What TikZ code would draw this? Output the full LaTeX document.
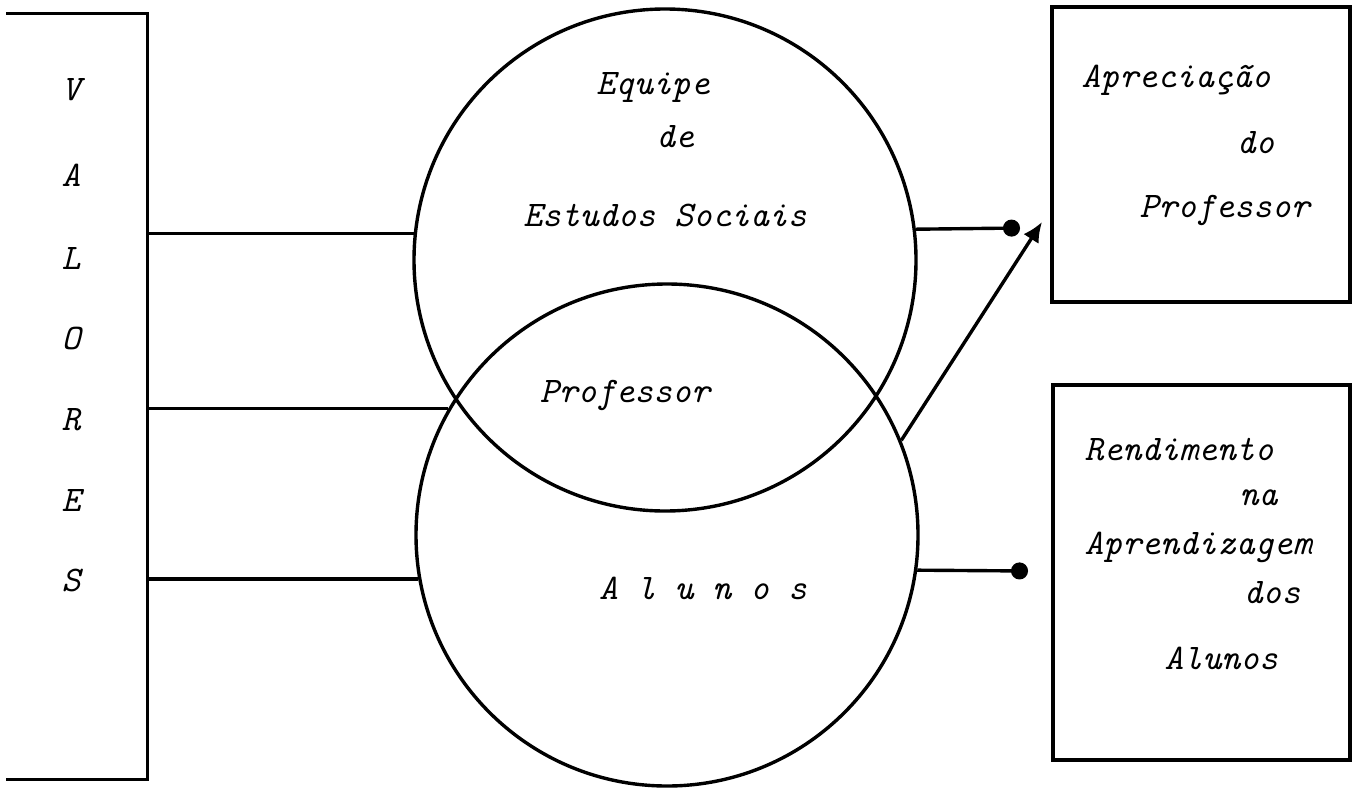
\documentclass[tikz,border=0pt]{standalone}
\usepackage{fontspec}
\usetikzlibrary{arrows.meta}

\begin{document}
\begin{tikzpicture}[x=0.5pt, y=-0.5pt, line width=1.7pt]
    \tikzstyle{txt} = [font=\fontsize{18}{22}\selectfont\ttfamily\itshape, inner sep=0pt]
    \tikzstyle{esq} = [txt, anchor=west]
    \tikzstyle{grupo} = [circle, draw, minimum size=251pt, inner sep=0pt]
    \tikzstyle{caixa} = [draw, inner sep=0pt]
    \tikzstyle{seta} = [-{Circle[length=8.5pt]}]
    \tikzstyle{setad} = [-{Latex[length=10pt,width=9pt]}]

    \useasboundingbox (0,0) rectangle (1353,787);

    % valores
    \node[minimum width=69pt, minimum height=381.5pt, inner sep=0pt] (valores) at (77,396.5) {};
    \draw (valores.north west) -- (valores.north east) -- (valores.south east) -- (valores.south west);
    \foreach \l/\y in {V/90,A/175,L/258,O/338,R/420,E/500,S/580}
        \node[txt] (v\l) at (71,\y) {\l};

    % circulos
    \node[grupo] (equipe) at (665,260) {};
    \node[grupo] (alunos) at (667,535) {};
    \node[txt] (eq1) at (653,87) {Equipe};
    \node[txt] (eq2) at (675,137) {de};
    \node[txt] (eq3) at (665,215) {Estudos Sociais};
    \node[txt] (prof) at (625,395) {Professor};
    \node[txt] (alu) at (703,588) {A l u n o s};

    % caixas da direita
    \node[caixa, minimum width=149pt, minimum height=147.5pt] (apreciacao) at (1201,154.5) {};
    \node[esq] (ap1) at (1080,80) {Apreciação};
    \node[esq] (ap2) at (1235,143) {do};
    \node[esq] (ap3) at (1138,210) {Professor};

    \node[caixa, minimum width=148.5pt, minimum height=187.5pt] (rendimento) at (1201.5,572.5) {};
    \node[esq] (re1) at (1083,450) {Rendimento};
    \node[esq] (re2) at (1238,498) {na};
    \node[esq] (re3) at (1083,547) {Aprendizagem};
    \node[esq] (re4) at (1242,593) {dos};
    \node[esq] (re5) at (1163,658) {Alunos};

    % ligacoes
    \draw (valores.east |- equipe.174.7) -- (equipe.174.7);
    \draw (valores.east |- alunos.150.8) -- (alunos.150.8);
    \draw (valores.east |- alunos.190.6) -- (alunos.190.6);

    \coordinate (p1) at (1020,228);
    \coordinate (p2) at (1042,222);
    \coordinate (p3) at (1028,571);
    \draw[seta] (equipe.7.3) -- (p1);
    \draw[setad] (alunos.22) -- (p2);
    \draw[seta] (alunos.-8.3) -- (p3);
\end{tikzpicture}
\end{document}
